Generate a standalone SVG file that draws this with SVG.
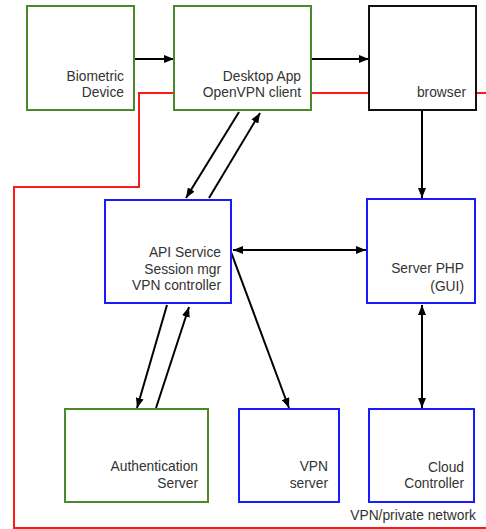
<svg xmlns="http://www.w3.org/2000/svg" width="486" height="529" viewBox="0 0 486 529">
<defs>
<marker id="ah" viewBox="0 0 10 8" refX="10" refY="4" markerWidth="10" markerHeight="8" markerUnits="userSpaceOnUse" orient="auto-start-reverse">
<path d="M0,0 L10,4 L0,8 Z" fill="#000"/>
</marker>
</defs>
<style>
.box{fill:#fff;stroke-width:2}
.g{stroke:#4a8a2c}
.b{stroke:#1a1aff}
.k{stroke:#111}
.t{font-family:"Liberation Sans",Arial,sans-serif;font-size:13.8px;fill:#333;text-anchor:end}
.c{stroke:#000;stroke-width:2;fill:none;marker-end:url(#ah)}
.r{stroke:#ff1a1a;stroke-width:2;fill:none}
</style>
<rect width="486" height="529" fill="#fff"/>
<g id="network">
<path class="r" d="M174,93 H139 V187 H14 V528 H486"/>
<path class="r" d="M311,93 H369"/>
<path class="r" d="M476,93 H486"/>
<text class="t" x="476" y="520">VPN/private network</text>
</g>
<g id="connectors">
<path class="c" d="M134,59 H174"/>
<path class="c" d="M311,59 H369"/>
<path class="c" d="M239,112 L186,198"/>
<path class="c" d="M209,198 L260,113"/>
<path class="c" d="M422,110 V198"/>
<path class="c" d="M233,250 H366" marker-start="url(#ah)"/>
<path class="c" d="M422,305 V408" marker-start="url(#ah)"/>
<path class="c" d="M167,305 L137,408"/>
<path class="c" d="M156,408 L189,307"/>
<path class="c" d="M231,252 L289,408"/>
</g>
<g id="biometric">
<rect class="box g" x="27" y="6" width="107" height="104"/>
<text class="t" x="124" y="81">Biometric</text>
<text class="t" x="124" y="97">Device</text>
</g>
<g id="desktop">
<rect class="box g" x="174" y="6" width="137" height="104"/>
<text class="t" x="301" y="81">Desktop App</text>
<text class="t" x="301" y="97">OpenVPN client</text>
</g>
<g id="browser">
<rect class="box k" x="369" y="6" width="107" height="104"/>
<text class="t" x="466" y="97">browser</text>
</g>
<g id="api">
<rect class="box b" x="105" y="200" width="126" height="103"/>
<text class="t" x="221" y="257">API Service</text>
<text class="t" x="221" y="274">Session mgr</text>
<text class="t" x="221" y="290">VPN controller</text>
</g>
<g id="serverphp">
<rect class="box b" x="367" y="199" width="108" height="104"/>
<text class="t" x="464" y="273">Server PHP</text>
<text class="t" x="464" y="291">(GUI)</text>
</g>
<g id="auth">
<rect class="box g" x="65" y="409" width="143" height="93"/>
<text class="t" x="198" y="471">Authentication</text>
<text class="t" x="198" y="488">Server</text>
</g>
<g id="vpnserver">
<rect class="box b" x="239" y="409" width="100" height="93"/>
<text class="t" x="328" y="471">VPN</text>
<text class="t" x="328" y="488">server</text>
</g>
<g id="cloud">
<rect class="box b" x="369" y="409" width="105" height="93"/>
<text class="t" x="464" y="472">Cloud</text>
<text class="t" x="464" y="488">Controller</text>
</g>
</svg>
